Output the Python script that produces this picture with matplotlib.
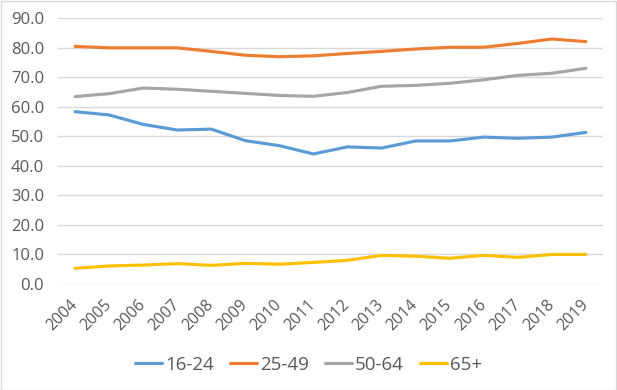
import matplotlib
matplotlib.use("Agg")
import matplotlib.pyplot as plt
from matplotlib.patches import Rectangle

years = ["2004", "2005", "2006", "2007", "2008", "2009", "2010", "2011",
         "2012", "2013", "2014", "2015", "2016", "2017", "2018", "2019"]
s16_24 = [58.3, 57.2, 54.0, 52.1, 52.4, 48.5, 46.8, 44.0, 46.4, 46.0, 48.4, 48.4, 49.7, 49.3, 49.7, 51.3]
s25_49 = [80.4, 79.9, 79.9, 79.9, 78.7, 77.4, 76.9, 77.2, 78.0, 78.7, 79.5, 80.1, 80.1, 81.4, 82.9, 82.0]
s50_64 = [63.4, 64.4, 66.3, 65.9, 65.2, 64.5, 63.8, 63.5, 64.8, 66.9, 67.2, 67.9, 69.1, 70.6, 71.3, 73.0]
s65 = [5.3, 6.1, 6.4, 6.9, 6.3, 7.0, 6.7, 7.3, 8.0, 9.7, 9.4, 8.7, 9.7, 9.0, 10.0, 10.0]
labels = ["16-24", "25-49", "50-64", "65+"]
colors = ["#5B9BD5", "#ED7D31", "#A5A5A5", "#FFC000"]
yticks = [0, 10, 20, 30, 40, 50, 60, 70, 80, 90]

plt.rcParams['font.family'] = ['Open Sans', 'DejaVu Sans']
txt = "#595959"

fig = plt.figure(figsize=(6.17, 3.90), dpi=100)
fig.patches.append(Rectangle((0.5/617, 0.5/390), 1 - 1.5/617, 1 - 1.5/390, transform=fig.transFigure,
                             fill=False, edgecolor="#D9D9D9", linewidth=1))
ax = fig.add_axes([58/617, 1 - 284/390, (603 - 58)/617, (284 - 18)/390])

x = list(range(len(years)))
for series, lab, c in zip([s16_24, s25_49, s50_64, s65], labels, colors):
    ax.plot(x, series, color=c, linewidth=2.25, label=lab, solid_capstyle="round")

ax.set_xlim(-0.5, len(years) - 0.5)
ax.set_ylim(0, 90)
ax.set_yticks(yticks)
ax.set_yticklabels([f"{v:.1f}" for v in yticks], fontsize=12, color=txt)
ax.set_xticks(x)
ax.set_xticklabels(years, rotation=45, ha="right", va="center", rotation_mode="anchor",
                   fontsize=11.5, color=txt)
ax.grid(axis="y", color="#D9D9D9", linewidth=1)
ax.set_axisbelow(True)
for sp in ax.spines.values():
    sp.set_visible(False)
ax.tick_params(axis="y", length=0, pad=10)
ax.tick_params(axis="x", length=0, pad=13)

leg = fig.legend(loc="center", bbox_to_anchor=(0.5, 1 - 365/390), ncol=4, frameon=False,
                 fontsize=13.5, handlelength=1.45, columnspacing=0.85, handletextpad=0.15,
                 borderaxespad=0)
for t in leg.get_texts():
    t.set_color(txt)

fig.savefig("out.png", dpi=100)
